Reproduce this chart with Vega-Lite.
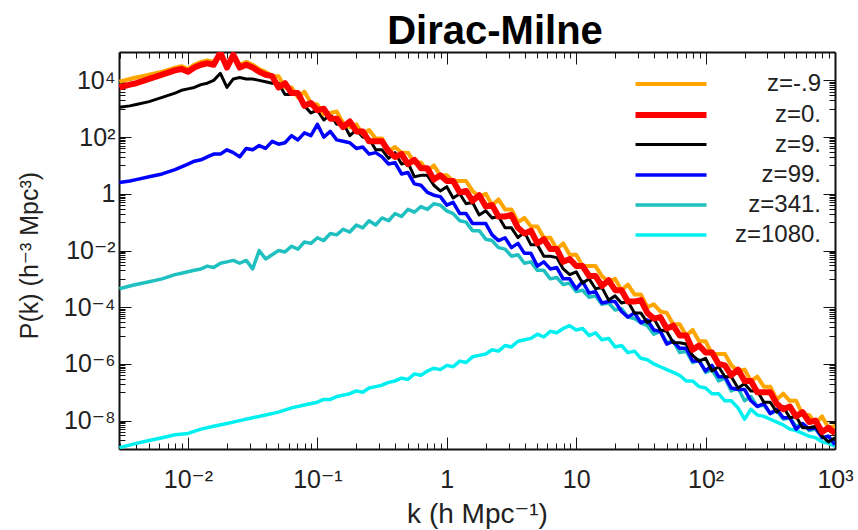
{
"$schema":"https://vega.github.io/schema/vega-lite/v6.json",
"width":716,"height":397,
"autosize":{"type":"none"},
"padding":{"left":119,"top":52,"right":23,"bottom":81},
"background":"white",
"title":{"text":"Dirac-Milne","fontSize":40,"fontWeight":"bold","font":"Liberation Sans","color":"#000","anchor":"middle","dx":18,"dy":40,"offset":6,"baseline":"alphabetic"},
"config":{"view":{"stroke":null},"font":"Liberation Sans"},
"data":{"values":[
{"z":"z=1080.","k":0.00295,"p":1.12e-9},{"z":"z=1080.","k":0.00398,"p":1.58e-9},{"z":"z=1080.","k":0.00501,"p":2e-9},{"z":"z=1080.","k":0.00631,"p":2.51e-9},{"z":"z=1080.","k":0.00794,"p":3.16e-9},{"z":"z=1080.","k":0.01,"p":3.55e-9},{"z":"z=1080.","k":0.0126,"p":5.01e-9},{"z":"z=1080.","k":0.0158,"p":6.31e-9},{"z":"z=1080.","k":0.02,"p":7.94e-9},{"z":"z=1080.","k":0.0251,"p":1e-8},{"z":"z=1080.","k":0.0316,"p":1.26e-8},{"z":"z=1080.","k":0.0398,"p":1.58e-8},{"z":"z=1080.","k":0.0501,"p":2e-8},{"z":"z=1080.","k":0.0631,"p":2.82e-8},{"z":"z=1080.","k":0.0794,"p":3.55e-8},{"z":"z=1080.","k":0.1,"p":4.47e-8},{"z":"z=1080.","k":0.112,"p":5.62e-8},{"z":"z=1080.","k":0.126,"p":5.62e-8},{"z":"z=1080.","k":0.141,"p":7.08e-8},{"z":"z=1080.","k":0.158,"p":7.94e-8},{"z":"z=1080.","k":0.178,"p":8.91e-8},{"z":"z=1080.","k":0.2,"p":1.12e-7},{"z":"z=1080.","k":0.224,"p":1e-7},{"z":"z=1080.","k":0.251,"p":1.41e-7},{"z":"z=1080.","k":0.282,"p":1.58e-7},{"z":"z=1080.","k":0.316,"p":1.78e-7},{"z":"z=1080.","k":0.355,"p":2.24e-7},{"z":"z=1080.","k":0.398,"p":2.51e-7},{"z":"z=1080.","k":0.447,"p":3.16e-7},{"z":"z=1080.","k":0.501,"p":2.82e-7},{"z":"z=1080.","k":0.562,"p":4.47e-7},{"z":"z=1080.","k":0.631,"p":3.98e-7},{"z":"z=1080.","k":0.708,"p":5.62e-7},{"z":"z=1080.","k":0.794,"p":7.08e-7},{"z":"z=1080.","k":0.891,"p":6.31e-7},{"z":"z=1080.","k":1,"p":8.91e-7},{"z":"z=1080.","k":1.12,"p":7.94e-7},{"z":"z=1080.","k":1.26,"p":1.26e-6},{"z":"z=1080.","k":1.41,"p":1.12e-6},{"z":"z=1080.","k":1.58,"p":1.78e-6},{"z":"z=1080.","k":1.78,"p":2e-6},{"z":"z=1080.","k":2,"p":2.24e-6},{"z":"z=1080.","k":2.24,"p":3.16e-6},{"z":"z=1080.","k":2.51,"p":2.82e-6},{"z":"z=1080.","k":2.82,"p":4.47e-6},{"z":"z=1080.","k":3.16,"p":3.98e-6},{"z":"z=1080.","k":3.55,"p":6.31e-6},{"z":"z=1080.","k":3.98,"p":7.08e-6},{"z":"z=1080.","k":4.47,"p":7.94e-6},{"z":"z=1080.","k":5.01,"p":1.12e-5},{"z":"z=1080.","k":5.62,"p":8.91e-6},{"z":"z=1080.","k":6.31,"p":1.41e-5},{"z":"z=1080.","k":7.08,"p":1.26e-5},{"z":"z=1080.","k":7.94,"p":1.78e-5},{"z":"z=1080.","k":8.91,"p":2.24e-5},{"z":"z=1080.","k":10,"p":1.58e-5},{"z":"z=1080.","k":11.2,"p":1.78e-5},{"z":"z=1080.","k":12.6,"p":1e-5},{"z":"z=1080.","k":14.1,"p":1.26e-5},{"z":"z=1080.","k":15.8,"p":7.08e-6},{"z":"z=1080.","k":17.8,"p":7.94e-6},{"z":"z=1080.","k":20,"p":3.98e-6},{"z":"z=1080.","k":22.4,"p":4.47e-6},{"z":"z=1080.","k":25.1,"p":2.51e-6},{"z":"z=1080.","k":28.2,"p":2.82e-6},{"z":"z=1080.","k":31.6,"p":1.58e-6},{"z":"z=1080.","k":35.5,"p":1.41e-6},{"z":"z=1080.","k":39.8,"p":1e-6},{"z":"z=1080.","k":44.7,"p":7.94e-7},{"z":"z=1080.","k":50.1,"p":6.31e-7},{"z":"z=1080.","k":56.2,"p":5.01e-7},{"z":"z=1080.","k":63.1,"p":3.98e-7},{"z":"z=1080.","k":70.8,"p":2.51e-7},{"z":"z=1080.","k":79.4,"p":2.51e-7},{"z":"z=1080.","k":89.1,"p":1.58e-7},{"z":"z=1080.","k":100,"p":1.41e-7},{"z":"z=1080.","k":112,"p":8.91e-8},{"z":"z=1080.","k":126,"p":8.91e-8},{"z":"z=1080.","k":141,"p":5.01e-8},{"z":"z=1080.","k":158,"p":5.01e-8},{"z":"z=1080.","k":178,"p":2.82e-8},{"z":"z=1080.","k":200,"p":1.12e-8},{"z":"z=1080.","k":224,"p":2.51e-8},{"z":"z=1080.","k":251,"p":1.58e-8},{"z":"z=1080.","k":282,"p":1.41e-8},{"z":"z=1080.","k":316,"p":1.12e-8},{"z":"z=1080.","k":355,"p":8.91e-9},{"z":"z=1080.","k":398,"p":7.08e-9},{"z":"z=1080.","k":447,"p":5.01e-9},{"z":"z=1080.","k":501,"p":4.47e-9},{"z":"z=1080.","k":562,"p":3.55e-9},{"z":"z=1080.","k":631,"p":2.82e-9},{"z":"z=1080.","k":708,"p":2.51e-9},{"z":"z=1080.","k":794,"p":1.78e-9},{"z":"z=1080.","k":891,"p":1.58e-9},{"z":"z=1080.","k":1000,"p":1.26e-9},
{"z":"z=341.","k":0.00295,"p":4.47e-4},{"z":"z=341.","k":0.00355,"p":5.62e-4},{"z":"z=341.","k":0.00398,"p":6.31e-4},{"z":"z=341.","k":0.00501,"p":7.94e-4},{"z":"z=341.","k":0.00631,"p":1e-3},{"z":"z=341.","k":0.00794,"p":1.41e-3},{"z":"z=341.","k":0.00891,"p":1.58e-3},{"z":"z=341.","k":0.01,"p":1.78e-3},{"z":"z=341.","k":0.0112,"p":2e-3},{"z":"z=341.","k":0.0126,"p":2.24e-3},{"z":"z=341.","k":0.0141,"p":2.82e-3},{"z":"z=341.","k":0.0158,"p":2.51e-3},{"z":"z=341.","k":0.0178,"p":3.55e-3},{"z":"z=341.","k":0.02,"p":3.98e-3},{"z":"z=341.","k":0.0224,"p":4.47e-3},{"z":"z=341.","k":0.0251,"p":3.55e-3},{"z":"z=341.","k":0.0282,"p":4.47e-3},{"z":"z=341.","k":0.0316,"p":2.24e-3},{"z":"z=341.","k":0.0355,"p":0.01},{"z":"z=341.","k":0.0398,"p":5.01e-3},
{"z":"z=341.","k":0.0447,"p":7.08e-3},{"z":"z=341.","k":0.0501,"p":0.01},{"z":"z=341.","k":0.0562,"p":8.91e-3},{"z":"z=341.","k":0.0631,"p":0.0141},{"z":"z=341.","k":0.0708,"p":0.0112},{"z":"z=341.","k":0.0794,"p":0.02},{"z":"z=341.","k":0.0891,"p":0.0178},{"z":"z=341.","k":0.1,"p":0.0282},{"z":"z=341.","k":0.112,"p":0.0224},{"z":"z=341.","k":0.126,"p":0.0398},{"z":"z=341.","k":0.141,"p":0.0355},{"z":"z=341.","k":0.158,"p":0.0562},{"z":"z=341.","k":0.178,"p":0.0447},{"z":"z=341.","k":0.2,"p":0.0794},{"z":"z=341.","k":0.224,"p":0.0631},{"z":"z=341.","k":0.251,"p":0.112},{"z":"z=341.","k":0.282,"p":0.0794},{"z":"z=341.","k":0.316,"p":0.141},{"z":"z=341.","k":0.355,"p":0.112},{"z":"z=341.","k":0.398,"p":0.2},{"z":"z=341.","k":0.447,"p":0.158},{"z":"z=341.","k":0.501,"p":0.282},{"z":"z=341.","k":0.562,"p":0.224},{"z":"z=341.","k":0.631,"p":0.355},{"z":"z=341.","k":0.708,"p":0.282},{"z":"z=341.","k":0.794,"p":0.447},{"z":"z=341.","k":0.891,"p":0.398},{"z":"z=341.","k":1,"p":0.251},
{"z":"z=341.","k":1.12,"p":0.2},{"z":"z=341.","k":1.26,"p":0.112},{"z":"z=341.","k":1.41,"p":0.1},{"z":"z=341.","k":1.58,"p":0.0501},{"z":"z=341.","k":1.78,"p":0.0501},{"z":"z=341.","k":2,"p":0.0251},{"z":"z=341.","k":2.24,"p":0.0224},{"z":"z=341.","k":2.51,"p":0.0126},{"z":"z=341.","k":2.82,"p":0.0112},{"z":"z=341.","k":3.16,"p":0.00631},{"z":"z=341.","k":3.55,"p":0.00708},{"z":"z=341.","k":3.98,"p":0.00355},{"z":"z=341.","k":4.47,"p":0.00398},{"z":"z=341.","k":5.01,"p":0.002},{"z":"z=341.","k":5.62,"p":0.002},{"z":"z=341.","k":6.31,"p":0.001},{"z":"z=341.","k":7.08,"p":0.00112},{"z":"z=341.","k":7.94,"p":6.31e-4},{"z":"z=341.","k":8.91,"p":7.08e-4},{"z":"z=341.","k":10,"p":3.55e-4},
{"z":"z=341.","k":11.2,"p":3.98e-4},{"z":"z=341.","k":12.6,"p":2.24e-4},{"z":"z=341.","k":14.1,"p":2.51e-4},{"z":"z=341.","k":15.8,"p":1.26e-4},{"z":"z=341.","k":17.8,"p":1.41e-4},{"z":"z=341.","k":20,"p":7.94e-5},{"z":"z=341.","k":22.4,"p":8.91e-5},{"z":"z=341.","k":25.1,"p":4.47e-5},{"z":"z=341.","k":28.2,"p":3.98e-5},{"z":"z=341.","k":31.6,"p":2.82e-5},
{"z":"z=341.","k":35.5,"p":2.24e-5},{"z":"z=341.","k":39.8,"p":1.12e-5},{"z":"z=341.","k":44.7,"p":1.41e-5},{"z":"z=341.","k":50.1,"p":5.62e-6},{"z":"z=341.","k":56.2,"p":6.31e-6},{"z":"z=341.","k":63.1,"p":2.51e-6},{"z":"z=341.","k":70.8,"p":2.82e-6},{"z":"z=341.","k":79.4,"p":1.12e-6},{"z":"z=341.","k":89.1,"p":1.41e-6},{"z":"z=341.","k":100,"p":5.01e-7},
{"z":"z=341.","k":112,"p":6.31e-7},{"z":"z=341.","k":126,"p":2.51e-7},{"z":"z=341.","k":141,"p":3.16e-7},{"z":"z=341.","k":158,"p":1.12e-7},{"z":"z=341.","k":178,"p":1.41e-7},{"z":"z=341.","k":200,"p":5.01e-8},{"z":"z=341.","k":224,"p":7.08e-8},{"z":"z=341.","k":251,"p":3.16e-8},{"z":"z=341.","k":282,"p":3.55e-8},{"z":"z=341.","k":316,"p":1.78e-8},
{"z":"z=341.","k":355,"p":2.24e-8},{"z":"z=341.","k":398,"p":1.12e-8},{"z":"z=341.","k":447,"p":1.26e-8},{"z":"z=341.","k":501,"p":6.31e-9},{"z":"z=341.","k":562,"p":7.94e-9},{"z":"z=341.","k":631,"p":4.47e-9},{"z":"z=341.","k":708,"p":5.01e-9},{"z":"z=341.","k":794,"p":2.51e-9},{"z":"z=341.","k":891,"p":2.82e-9},{"z":"z=341.","k":1000,"p":1.41e-9},
{"z":"z=99.","k":0.00295,"p":2.51},{"z":"z=99.","k":0.00355,"p":2.82},{"z":"z=99.","k":0.00398,"p":3.16},{"z":"z=99.","k":0.00501,"p":3.98},{"z":"z=99.","k":0.00631,"p":5.01},{"z":"z=99.","k":0.00794,"p":7.08},{"z":"z=99.","k":0.00891,"p":8.91},{"z":"z=99.","k":0.01,"p":11.2},{"z":"z=99.","k":0.0112,"p":14.1},{"z":"z=99.","k":0.0126,"p":15.8},{"z":"z=99.","k":0.0141,"p":20},{"z":"z=99.","k":0.0158,"p":25.1},{"z":"z=99.","k":0.0178,"p":25.1},{"z":"z=99.","k":0.02,"p":35.5},{"z":"z=99.","k":0.0224,"p":28.2},{"z":"z=99.","k":0.0251,"p":20},{"z":"z=99.","k":0.0282,"p":39.8},{"z":"z=99.","k":0.0316,"p":35.5},{"z":"z=99.","k":0.0355,"p":50.1},{"z":"z=99.","k":0.0398,"p":39.8},
{"z":"z=99.","k":0.0447,"p":70.8},{"z":"z=99.","k":0.0501,"p":56.2},{"z":"z=99.","k":0.0562,"p":63.1},{"z":"z=99.","k":0.0631,"p":112},{"z":"z=99.","k":0.0708,"p":79.4},{"z":"z=99.","k":0.0794,"p":141},{"z":"z=99.","k":0.0891,"p":112},{"z":"z=99.","k":0.1,"p":282},{"z":"z=99.","k":0.112,"p":100},{"z":"z=99.","k":0.126,"p":158},{"z":"z=99.","k":0.141,"p":79.4},{"z":"z=99.","k":0.158,"p":70.8},{"z":"z=99.","k":0.178,"p":63.1},{"z":"z=99.","k":0.2,"p":39.8},{"z":"z=99.","k":0.224,"p":44.7},{"z":"z=99.","k":0.251,"p":25.1},{"z":"z=99.","k":0.282,"p":28.2},{"z":"z=99.","k":0.316,"p":20},{"z":"z=99.","k":0.355,"p":11.2},{"z":"z=99.","k":0.398,"p":12.6},{"z":"z=99.","k":0.447,"p":5.01},{"z":"z=99.","k":0.501,"p":5.62},{"z":"z=99.","k":0.562,"p":2.24},{"z":"z=99.","k":0.631,"p":2},{"z":"z=99.","k":0.708,"p":1.12},{"z":"z=99.","k":0.794,"p":0.891},{"z":"z=99.","k":0.891,"p":0.794},{"z":"z=99.","k":1,"p":0.398},
{"z":"z=99.","k":1.12,"p":0.501},{"z":"z=99.","k":1.26,"p":0.2},{"z":"z=99.","k":1.41,"p":0.2},{"z":"z=99.","k":1.58,"p":0.0891},{"z":"z=99.","k":1.78,"p":0.0891},{"z":"z=99.","k":2,"p":0.0891},{"z":"z=99.","k":2.24,"p":0.0355},{"z":"z=99.","k":2.51,"p":0.0224},{"z":"z=99.","k":2.82,"p":0.0282},{"z":"z=99.","k":3.16,"p":0.0126},{"z":"z=99.","k":3.55,"p":0.0178},{"z":"z=99.","k":3.98,"p":0.00794},{"z":"z=99.","k":4.47,"p":0.00794},{"z":"z=99.","k":5.01,"p":0.00282},{"z":"z=99.","k":5.62,"p":0.00398},{"z":"z=99.","k":6.31,"p":0.00224},{"z":"z=99.","k":7.08,"p":0.00251},{"z":"z=99.","k":7.94,"p":0.001},{"z":"z=99.","k":8.91,"p":0.001},{"z":"z=99.","k":10,"p":4.47e-4},
{"z":"z=99.","k":11.2,"p":7.94e-4},{"z":"z=99.","k":12.6,"p":3.16e-4},{"z":"z=99.","k":14.1,"p":3.55e-4},{"z":"z=99.","k":15.8,"p":1.41e-4},{"z":"z=99.","k":17.8,"p":1.58e-4},{"z":"z=99.","k":20,"p":1.58e-4},{"z":"z=99.","k":22.4,"p":7.08e-5},{"z":"z=99.","k":25.1,"p":4.47e-5},{"z":"z=99.","k":28.2,"p":6.31e-5},{"z":"z=99.","k":31.6,"p":2.82e-5},
{"z":"z=99.","k":35.5,"p":3.55e-5},{"z":"z=99.","k":39.8,"p":1.58e-5},{"z":"z=99.","k":44.7,"p":1.41e-5},{"z":"z=99.","k":50.1,"p":5.01e-6},{"z":"z=99.","k":56.2,"p":6.31e-6},{"z":"z=99.","k":63.1,"p":3.55e-6},{"z":"z=99.","k":70.8,"p":3.55e-6},{"z":"z=99.","k":79.4,"p":1.26e-6},{"z":"z=99.","k":89.1,"p":1.26e-6},{"z":"z=99.","k":100,"p":5.62e-7},
{"z":"z=99.","k":112,"p":8.91e-7},{"z":"z=99.","k":126,"p":3.55e-7},{"z":"z=99.","k":141,"p":3.55e-7},{"z":"z=99.","k":158,"p":1.41e-7},{"z":"z=99.","k":178,"p":1.26e-7},{"z":"z=99.","k":200,"p":1.26e-7},{"z":"z=99.","k":224,"p":5.01e-8},{"z":"z=99.","k":251,"p":3.16e-8},{"z":"z=99.","k":282,"p":3.98e-8},{"z":"z=99.","k":316,"p":1.78e-8},
{"z":"z=99.","k":355,"p":2.51e-8},{"z":"z=99.","k":398,"p":1.26e-8},{"z":"z=99.","k":447,"p":1.26e-8},{"z":"z=99.","k":501,"p":5.01e-9},{"z":"z=99.","k":562,"p":7.94e-9},{"z":"z=99.","k":631,"p":5.01e-9},{"z":"z=99.","k":708,"p":5.62e-9},{"z":"z=99.","k":794,"p":2.51e-9},{"z":"z=99.","k":891,"p":2.82e-9},{"z":"z=99.","k":1000,"p":1.41e-9},
{"z":"z=9.","k":0.00295,"p":1120},{"z":"z=9.","k":0.00355,"p":1260},{"z":"z=9.","k":0.00398,"p":1410},{"z":"z=9.","k":0.00501,"p":1780},{"z":"z=9.","k":0.00631,"p":2510},{"z":"z=9.","k":0.00794,"p":3550},{"z":"z=9.","k":0.00891,"p":4470},{"z":"z=9.","k":0.01,"p":5010},{"z":"z=9.","k":0.0112,"p":5620},{"z":"z=9.","k":0.0126,"p":7080},{"z":"z=9.","k":0.0141,"p":7940},{"z":"z=9.","k":0.0158,"p":10000},{"z":"z=9.","k":0.0178,"p":17800},{"z":"z=9.","k":0.02,"p":5620},{"z":"z=9.","k":0.0224,"p":11200},{"z":"z=9.","k":0.0251,"p":12600},{"z":"z=9.","k":0.0282,"p":11200},{"z":"z=9.","k":0.0316,"p":11200},{"z":"z=9.","k":0.0355,"p":10000},{"z":"z=9.","k":0.0398,"p":8910},
{"z":"z=9.","k":0.0447,"p":7940},{"z":"z=9.","k":0.0501,"p":7940},{"z":"z=9.","k":0.0562,"p":3160},{"z":"z=9.","k":0.0631,"p":3160},{"z":"z=9.","k":0.0708,"p":3160},{"z":"z=9.","k":0.0794,"p":1260},{"z":"z=9.","k":0.0891,"p":708},{"z":"z=9.","k":0.1,"p":891},{"z":"z=9.","k":0.112,"p":398},{"z":"z=9.","k":0.126,"p":631},{"z":"z=9.","k":0.141,"p":282},{"z":"z=9.","k":0.158,"p":316},{"z":"z=9.","k":0.178,"p":112},{"z":"z=9.","k":0.2,"p":178},{"z":"z=9.","k":0.224,"p":100},{"z":"z=9.","k":0.251,"p":89.1},{"z":"z=9.","k":0.282,"p":35.5},{"z":"z=9.","k":0.316,"p":35.5},{"z":"z=9.","k":0.355,"p":17.8},{"z":"z=9.","k":0.398,"p":28.2},{"z":"z=9.","k":0.447,"p":11.2},{"z":"z=9.","k":0.501,"p":12.6},{"z":"z=9.","k":0.562,"p":3.98},{"z":"z=9.","k":0.631,"p":4.47},{"z":"z=9.","k":0.708,"p":4.47},{"z":"z=9.","k":0.794,"p":2},{"z":"z=9.","k":0.891,"p":1.26},{"z":"z=9.","k":1,"p":1.78},
{"z":"z=9.","k":1.12,"p":0.708},{"z":"z=9.","k":1.26,"p":1},{"z":"z=9.","k":1.41,"p":0.447},{"z":"z=9.","k":1.58,"p":0.501},{"z":"z=9.","k":1.78,"p":0.178},{"z":"z=9.","k":2,"p":0.251},{"z":"z=9.","k":2.24,"p":0.141},{"z":"z=9.","k":2.51,"p":0.158},{"z":"z=9.","k":2.82,"p":0.0631},{"z":"z=9.","k":3.16,"p":0.0631},{"z":"z=9.","k":3.55,"p":0.0282},{"z":"z=9.","k":3.98,"p":0.0447},{"z":"z=9.","k":4.47,"p":0.0158},{"z":"z=9.","k":5.01,"p":0.0158},{"z":"z=9.","k":5.62,"p":0.00631},{"z":"z=9.","k":6.31,"p":0.00631},{"z":"z=9.","k":7.08,"p":0.00562},{"z":"z=9.","k":7.94,"p":0.00224},{"z":"z=9.","k":8.91,"p":0.00141},{"z":"z=9.","k":10,"p":0.00178},
{"z":"z=9.","k":11.2,"p":7.08e-4},{"z":"z=9.","k":12.6,"p":1e-3},{"z":"z=9.","k":14.1,"p":4.47e-4},{"z":"z=9.","k":15.8,"p":5.01e-4},{"z":"z=9.","k":17.8,"p":1.78e-4},{"z":"z=9.","k":20,"p":2.51e-4},{"z":"z=9.","k":22.4,"p":1.41e-4},{"z":"z=9.","k":25.1,"p":1.58e-4},{"z":"z=9.","k":28.2,"p":6.31e-5},{"z":"z=9.","k":31.6,"p":6.31e-5},
{"z":"z=9.","k":35.5,"p":2.82e-5},{"z":"z=9.","k":39.8,"p":3.98e-5},{"z":"z=9.","k":44.7,"p":1.58e-5},{"z":"z=9.","k":50.1,"p":1.41e-5},{"z":"z=9.","k":56.2,"p":5.62e-6},{"z":"z=9.","k":63.1,"p":5.62e-6},{"z":"z=9.","k":70.8,"p":5.01e-6},{"z":"z=9.","k":79.4,"p":2e-6},{"z":"z=9.","k":89.1,"p":1.26e-6},{"z":"z=9.","k":100,"p":1.58e-6},
{"z":"z=9.","k":112,"p":5.62e-7},{"z":"z=9.","k":126,"p":7.94e-7},{"z":"z=9.","k":141,"p":3.55e-7},{"z":"z=9.","k":158,"p":3.55e-7},{"z":"z=9.","k":178,"p":1.41e-7},{"z":"z=9.","k":200,"p":2e-7},{"z":"z=9.","k":224,"p":1.12e-7},{"z":"z=9.","k":251,"p":1.12e-7},{"z":"z=9.","k":282,"p":4.47e-8},{"z":"z=9.","k":316,"p":4.47e-8},
{"z":"z=9.","k":355,"p":2e-8},{"z":"z=9.","k":398,"p":3.16e-8},{"z":"z=9.","k":447,"p":1.26e-8},{"z":"z=9.","k":501,"p":1.41e-8},{"z":"z=9.","k":562,"p":5.62e-9},{"z":"z=9.","k":631,"p":5.62e-9},{"z":"z=9.","k":708,"p":6.31e-9},{"z":"z=9.","k":794,"p":2.82e-9},{"z":"z=9.","k":891,"p":1.78e-9},{"z":"z=9.","k":1000,"p":2.51e-9},
{"z":"z=-.9","k":0.00295,"p":8910},{"z":"z=-.9","k":0.00355,"p":11200},{"z":"z=-.9","k":0.00398,"p":12600},{"z":"z=-.9","k":0.00501,"p":15800},{"z":"z=-.9","k":0.00631,"p":20000},{"z":"z=-.9","k":0.00794,"p":28200},{"z":"z=-.9","k":0.00891,"p":31600},{"z":"z=-.9","k":0.01,"p":25100},{"z":"z=-.9","k":0.0112,"p":35500},{"z":"z=-.9","k":0.0126,"p":44700},{"z":"z=-.9","k":0.0141,"p":50100},{"z":"z=-.9","k":0.0158,"p":44700},{"z":"z=-.9","k":0.0178,"p":89100},{"z":"z=-.9","k":0.02,"p":35500},{"z":"z=-.9","k":0.0224,"p":79400},{"z":"z=-.9","k":0.0251,"p":35500},{"z":"z=-.9","k":0.0282,"p":44700},{"z":"z=-.9","k":0.0316,"p":35500},{"z":"z=-.9","k":0.0355,"p":25100},{"z":"z=-.9","k":0.0398,"p":20000},
{"z":"z=-.9","k":0.0447,"p":14100},{"z":"z=-.9","k":0.0501,"p":14100},{"z":"z=-.9","k":0.0562,"p":5620},{"z":"z=-.9","k":0.0631,"p":5620},{"z":"z=-.9","k":0.0708,"p":2510},{"z":"z=-.9","k":0.0794,"p":3980},{"z":"z=-.9","k":0.0891,"p":1580},{"z":"z=-.9","k":0.1,"p":1410},{"z":"z=-.9","k":0.112,"p":631},{"z":"z=-.9","k":0.126,"p":708},{"z":"z=-.9","k":0.141,"p":794},{"z":"z=-.9","k":0.158,"p":316},{"z":"z=-.9","k":0.178,"p":224},{"z":"z=-.9","k":0.2,"p":282},{"z":"z=-.9","k":0.224,"p":126},{"z":"z=-.9","k":0.251,"p":178},{"z":"z=-.9","k":0.282,"p":89.1},{"z":"z=-.9","k":0.316,"p":89.1},{"z":"z=-.9","k":0.355,"p":31.6},{"z":"z=-.9","k":0.398,"p":44.7},{"z":"z=-.9","k":0.447,"p":28.2},{"z":"z=-.9","k":0.501,"p":28.2},{"z":"z=-.9","k":0.562,"p":12.6},{"z":"z=-.9","k":0.631,"p":12.6},{"z":"z=-.9","k":0.708,"p":6.31},{"z":"z=-.9","k":0.794,"p":10},{"z":"z=-.9","k":0.891,"p":4.47},{"z":"z=-.9","k":1,"p":4.47},
{"z":"z=-.9","k":1.12,"p":2.82},{"z":"z=-.9","k":1.26,"p":2.82},{"z":"z=-.9","k":1.41,"p":2.82},{"z":"z=-.9","k":1.58,"p":1.26},{"z":"z=-.9","k":1.78,"p":0.794},{"z":"z=-.9","k":2,"p":1},{"z":"z=-.9","k":2.24,"p":0.398},{"z":"z=-.9","k":2.51,"p":0.631},{"z":"z=-.9","k":2.82,"p":0.282},{"z":"z=-.9","k":3.16,"p":0.282},{"z":"z=-.9","k":3.55,"p":0.1},{"z":"z=-.9","k":3.98,"p":0.141},{"z":"z=-.9","k":4.47,"p":0.0708},{"z":"z=-.9","k":5.01,"p":0.0708},{"z":"z=-.9","k":5.62,"p":0.0282},{"z":"z=-.9","k":6.31,"p":0.0282},{"z":"z=-.9","k":7.08,"p":0.0112},{"z":"z=-.9","k":7.94,"p":0.0178},{"z":"z=-.9","k":8.91,"p":0.00708},{"z":"z=-.9","k":10,"p":0.00708},
{"z":"z=-.9","k":11.2,"p":0.00282},{"z":"z=-.9","k":12.6,"p":0.00282},{"z":"z=-.9","k":14.1,"p":0.00282},{"z":"z=-.9","k":15.8,"p":0.00126},{"z":"z=-.9","k":17.8,"p":7.94e-4},{"z":"z=-.9","k":20,"p":1e-3},{"z":"z=-.9","k":22.4,"p":3.98e-4},{"z":"z=-.9","k":25.1,"p":6.31e-4},{"z":"z=-.9","k":28.2,"p":2.82e-4},{"z":"z=-.9","k":31.6,"p":2.82e-4},
{"z":"z=-.9","k":35.5,"p":1e-4},{"z":"z=-.9","k":39.8,"p":1.26e-4},{"z":"z=-.9","k":44.7,"p":7.08e-5},{"z":"z=-.9","k":50.1,"p":6.31e-5},{"z":"z=-.9","k":56.2,"p":2.51e-5},{"z":"z=-.9","k":63.1,"p":2.51e-5},{"z":"z=-.9","k":70.8,"p":1e-5},{"z":"z=-.9","k":79.4,"p":1.58e-5},{"z":"z=-.9","k":89.1,"p":6.31e-6},{"z":"z=-.9","k":100,"p":6.31e-6},
{"z":"z=-.9","k":112,"p":2.24e-6},{"z":"z=-.9","k":126,"p":2.24e-6},{"z":"z=-.9","k":141,"p":2.24e-6},{"z":"z=-.9","k":158,"p":8.91e-7},{"z":"z=-.9","k":178,"p":5.62e-7},{"z":"z=-.9","k":200,"p":6.31e-7},{"z":"z=-.9","k":224,"p":2.51e-7},{"z":"z=-.9","k":251,"p":3.55e-7},{"z":"z=-.9","k":282,"p":1.58e-7},{"z":"z=-.9","k":316,"p":1.58e-7},
{"z":"z=-.9","k":355,"p":5.62e-8},{"z":"z=-.9","k":398,"p":8.91e-8},{"z":"z=-.9","k":447,"p":5.01e-8},{"z":"z=-.9","k":501,"p":5.01e-8},{"z":"z=-.9","k":562,"p":1.58e-8},{"z":"z=-.9","k":631,"p":1.58e-8},{"z":"z=-.9","k":708,"p":7.94e-9},{"z":"z=-.9","k":794,"p":1.41e-8},{"z":"z=-.9","k":891,"p":5.62e-9},{"z":"z=-.9","k":1000,"p":6.31e-9},
{"z":"z=0.","k":0.00295,"p":5620},{"z":"z=0.","k":0.00355,"p":7080},{"z":"z=0.","k":0.00398,"p":7940},{"z":"z=0.","k":0.00501,"p":11200},{"z":"z=0.","k":0.00631,"p":15800},{"z":"z=0.","k":0.00794,"p":22400},{"z":"z=0.","k":0.00891,"p":25100},{"z":"z=0.","k":0.01,"p":20000},{"z":"z=0.","k":0.0112,"p":28200},{"z":"z=0.","k":0.0126,"p":35500},{"z":"z=0.","k":0.0141,"p":39800},{"z":"z=0.","k":0.0158,"p":35500},{"z":"z=0.","k":0.0178,"p":95000},{"z":"z=0.","k":0.02,"p":28200},{"z":"z=0.","k":0.0224,"p":79400},{"z":"z=0.","k":0.0251,"p":28200},{"z":"z=0.","k":0.0282,"p":35500},{"z":"z=0.","k":0.0316,"p":28200},{"z":"z=0.","k":0.0355,"p":20000},{"z":"z=0.","k":0.0398,"p":15800},
{"z":"z=0.","k":0.0447,"p":14100},{"z":"z=0.","k":0.0501,"p":5620},{"z":"z=0.","k":0.0562,"p":7940},{"z":"z=0.","k":0.0631,"p":3550},{"z":"z=0.","k":0.0708,"p":3550},{"z":"z=0.","k":0.0794,"p":1260},{"z":"z=0.","k":0.0891,"p":1580},{"z":"z=0.","k":0.1,"p":891},{"z":"z=0.","k":0.112,"p":1000},{"z":"z=0.","k":0.126,"p":447},{"z":"z=0.","k":0.141,"p":447},{"z":"z=0.","k":0.158,"p":224},{"z":"z=0.","k":0.178,"p":355},{"z":"z=0.","k":0.2,"p":158},{"z":"z=0.","k":0.224,"p":158},{"z":"z=0.","k":0.251,"p":70.8},{"z":"z=0.","k":0.282,"p":70.8},{"z":"z=0.","k":0.316,"p":70.8},{"z":"z=0.","k":0.355,"p":31.6},{"z":"z=0.","k":0.398,"p":20},{"z":"z=0.","k":0.447,"p":25.1},{"z":"z=0.","k":0.501,"p":11.2},{"z":"z=0.","k":0.562,"p":15.8},{"z":"z=0.","k":0.631,"p":7.94},{"z":"z=0.","k":0.708,"p":7.94},{"z":"z=0.","k":0.794,"p":3.16},{"z":"z=0.","k":0.891,"p":4.47},{"z":"z=0.","k":1,"p":2.82},
{"z":"z=0.","k":1.12,"p":2.82},{"z":"z=0.","k":1.26,"p":1.12},{"z":"z=0.","k":1.41,"p":1.26},{"z":"z=0.","k":1.58,"p":0.562},{"z":"z=0.","k":1.78,"p":0.891},{"z":"z=0.","k":2,"p":0.355},{"z":"z=0.","k":2.24,"p":0.398},{"z":"z=0.","k":2.51,"p":0.158},{"z":"z=0.","k":2.82,"p":0.158},{"z":"z=0.","k":3.16,"p":0.178},{"z":"z=0.","k":3.55,"p":0.0631},{"z":"z=0.","k":3.98,"p":0.0398},{"z":"z=0.","k":4.47,"p":0.0501},{"z":"z=0.","k":5.01,"p":0.0178},{"z":"z=0.","k":5.62,"p":0.0251},{"z":"z=0.","k":6.31,"p":0.0112},{"z":"z=0.","k":7.08,"p":0.0112},{"z":"z=0.","k":7.94,"p":0.00398},{"z":"z=0.","k":8.91,"p":0.00501},{"z":"z=0.","k":10,"p":0.00282},
{"z":"z=0.","k":11.2,"p":0.00282},{"z":"z=0.","k":12.6,"p":0.00126},{"z":"z=0.","k":14.1,"p":0.00126},{"z":"z=0.","k":15.8,"p":5.62e-4},{"z":"z=0.","k":17.8,"p":8.91e-4},{"z":"z=0.","k":20,"p":3.98e-4},{"z":"z=0.","k":22.4,"p":3.98e-4},{"z":"z=0.","k":25.1,"p":1.58e-4},{"z":"z=0.","k":28.2,"p":1.58e-4},{"z":"z=0.","k":31.6,"p":1.78e-4},
{"z":"z=0.","k":35.5,"p":6.31e-5},{"z":"z=0.","k":39.8,"p":3.98e-5},{"z":"z=0.","k":44.7,"p":4.47e-5},{"z":"z=0.","k":50.1,"p":1.78e-5},{"z":"z=0.","k":56.2,"p":2.24e-5},{"z":"z=0.","k":63.1,"p":1e-5},{"z":"z=0.","k":70.8,"p":1e-5},{"z":"z=0.","k":79.4,"p":3.16e-6},{"z":"z=0.","k":89.1,"p":4.47e-6},{"z":"z=0.","k":100,"p":2.51e-6},
{"z":"z=0.","k":112,"p":2.51e-6},{"z":"z=0.","k":126,"p":1e-6},{"z":"z=0.","k":141,"p":8.91e-7},{"z":"z=0.","k":158,"p":3.98e-7},{"z":"z=0.","k":178,"p":6.31e-7},{"z":"z=0.","k":200,"p":2.51e-7},{"z":"z=0.","k":224,"p":2.51e-7},{"z":"z=0.","k":251,"p":1e-7},{"z":"z=0.","k":282,"p":1e-7},{"z":"z=0.","k":316,"p":1e-7},
{"z":"z=0.","k":355,"p":3.98e-8},{"z":"z=0.","k":398,"p":2.51e-8},{"z":"z=0.","k":447,"p":3.16e-8},{"z":"z=0.","k":501,"p":1.41e-8},{"z":"z=0.","k":562,"p":2e-8},{"z":"z=0.","k":631,"p":8.91e-9},{"z":"z=0.","k":708,"p":1e-8},{"z":"z=0.","k":794,"p":3.98e-9},{"z":"z=0.","k":891,"p":5.62e-9},{"z":"z=0.","k":1000,"p":3.55e-9}
]},
"resolve":{"axis":{"x":"independent","y":"independent"}},
"layer":[
{"mark":{"type":"line","clip":true,"strokeJoin":"round"},
 "encoding":{
  "x":{"field":"k","type":"quantitative","scale":{"type":"log","domain":[0.00293,1000],"nice":false},
   "axis":{"orient":"bottom","grid":false,
    "values":[0.003,0.004,0.005,0.006,0.007,0.008,0.009,0.01,0.02,0.03,0.04,0.05,0.06,0.07,0.08,0.09,0.1,0.2,0.3,0.4,0.5,0.6,0.7,0.8,0.9,1,2,3,4,5,6,7,8,9,10,20,30,40,50,60,70,80,90,100,200,300,400,500,600,700,800,900,1000],
    "labelExpr":"datum.value == 0.01 ? '10⁻²' : datum.value == 0.1 ? '10⁻¹' : datum.value == 1 ? '1' : datum.value == 10 ? '10' : datum.value == 100 ? '10²' : datum.value == 1000 ? '10³' : ''",
    "tickSize":{"condition":{"test":"indexof([0.01,0.1,1,10,100,1000], datum.value) >= 0","value":-12},"value":-6},
    "tickColor":"#111","tickWidth":1,"domainColor":"#111","domainWidth":2,
    "labelFontSize":25,"labelColor":"#222","labelPadding":30,"labelFlush":false,"labelOverlap":false,"labelFont":"Liberation Sans, DejaVu Sans",
    "title":"k  (h Mpc⁻¹)","titleFontSize":28,"titleFontWeight":"normal","titleColor":"#222","titleFont":"Liberation Sans, DejaVu Sans","titleBaseline":"alphabetic","titleY":73}},
  "y":{"field":"p","type":"quantitative","scale":{"type":"log","domain":[1e-9,1e5],"nice":false},
   "axis":{"orient":"left","grid":false,
    "values":[1e-9,2e-9,3e-9,4e-9,5e-9,6e-9,7e-9,8e-9,9e-9,1e-8,1e-7,2e-7,3e-7,4e-7,5e-7,6e-7,7e-7,8e-7,9e-7,1e-6,1e-5,2e-5,3e-5,4e-5,5e-5,6e-5,7e-5,8e-5,9e-5,1e-4,1e-3,2e-3,3e-3,4e-3,5e-3,6e-3,7e-3,8e-3,9e-3,0.01,0.1,0.2,0.3,0.4,0.5,0.6,0.7,0.8,0.9,1,10,20,30,40,50,60,70,80,90,100,1000,2000,3000,4000,5000,6000,7000,8000,9000,10000],
    "labelExpr":"datum.value == 10000 ? '10⁴' : datum.value == 100 ? '10²' : datum.value == 1 ? '1' : datum.value == 0.01 ? '10⁻²' : datum.value == 1e-4 ? '10⁻⁴' : datum.value == 1e-6 ? '10⁻⁶' : datum.value == 1e-8 ? '10⁻⁸' : ''",
    "tickSize":{"condition":{"test":"indexof([1e-8,1e-6,1e-4,0.01,1,100,10000], datum.value) >= 0","value":-12},"value":-6},
    "tickColor":"#111","tickWidth":1,"domainColor":"#111","domainWidth":2,
    "labelFontSize":25,"labelColor":"#222","labelPadding":16,"labelOverlap":false,"labelFlush":false,"labelFont":"Liberation Sans, DejaVu Sans",
    "title":"P(k)  (h⁻³ Mpc³)","titleFontSize":25,"titleFontWeight":"normal","titleColor":"#222","titleFont":"Liberation Sans, DejaVu Sans","titleAngle":-90,"titleBaseline":"alphabetic","titleAlign":"center","titleX":-82,"titleY":203}},
  "color":{"field":"z","type":"nominal",
   "scale":{"domain":["z=-.9","z=0.","z=9.","z=99.","z=341.","z=1080."],"range":["#FFA500","#FF0000","#000000","#0000FF","#20C0C0","#00F0F0"]},
   "legend":{"orient":"none","legendX":537,"legendY":18,"title":null,"symbolType":"M-3,0H3","symbolSize":560,"symbolStrokeWidth":3,
    "labelFontSize":24,"labelFont":"Liberation Sans","labelColor":"#222","labelAlign":"right","labelOffset":135,"labelLimit":220,"rowPadding":4,"padding":0}},
  "strokeWidth":{"field":"z","type":"nominal",
   "scale":{"type":"ordinal","domain":["z=-.9","z=0.","z=9.","z=99.","z=341.","z=1080."],"range":[4,6,3,3.5,3.5,3.5]}}
 }},
{"mark":{"type":"point","opacity":0},
 "encoding":{
  "x":{"field":"k","type":"quantitative","scale":{"type":"log","domain":[0.00293,1000],"nice":false},
   "axis":{"orient":"top","grid":false,"labels":false,"title":null,
    "values":[0.003,0.004,0.005,0.006,0.007,0.008,0.009,0.01,0.02,0.03,0.04,0.05,0.06,0.07,0.08,0.09,0.1,0.2,0.3,0.4,0.5,0.6,0.7,0.8,0.9,1,2,3,4,5,6,7,8,9,10,20,30,40,50,60,70,80,90,100,200,300,400,500,600,700,800,900,1000],
    "tickSize":{"condition":{"test":"indexof([0.01,0.1,1,10,100,1000], datum.value) >= 0","value":-12},"value":-6},
    "tickColor":"#111","tickWidth":1,"domainColor":"#111","domainWidth":2}},
  "y":{"field":"p","type":"quantitative","scale":{"type":"log","domain":[1e-9,1e5],"nice":false},
   "axis":{"orient":"right","grid":false,"labels":false,"title":null,
    "values":[1e-9,2e-9,3e-9,4e-9,5e-9,6e-9,7e-9,8e-9,9e-9,1e-8,1e-7,2e-7,3e-7,4e-7,5e-7,6e-7,7e-7,8e-7,9e-7,1e-6,1e-5,2e-5,3e-5,4e-5,5e-5,6e-5,7e-5,8e-5,9e-5,1e-4,1e-3,2e-3,3e-3,4e-3,5e-3,6e-3,7e-3,8e-3,9e-3,0.01,0.1,0.2,0.3,0.4,0.5,0.6,0.7,0.8,0.9,1,10,20,30,40,50,60,70,80,90,100,1000,2000,3000,4000,5000,6000,7000,8000,9000,10000],
    "tickSize":{"condition":{"test":"indexof([1e-8,1e-6,1e-4,0.01,1,100,10000], datum.value) >= 0","value":-12},"value":-6},
    "tickColor":"#111","tickWidth":1,"domainColor":"#111","domainWidth":2}}
 }}
]
}
